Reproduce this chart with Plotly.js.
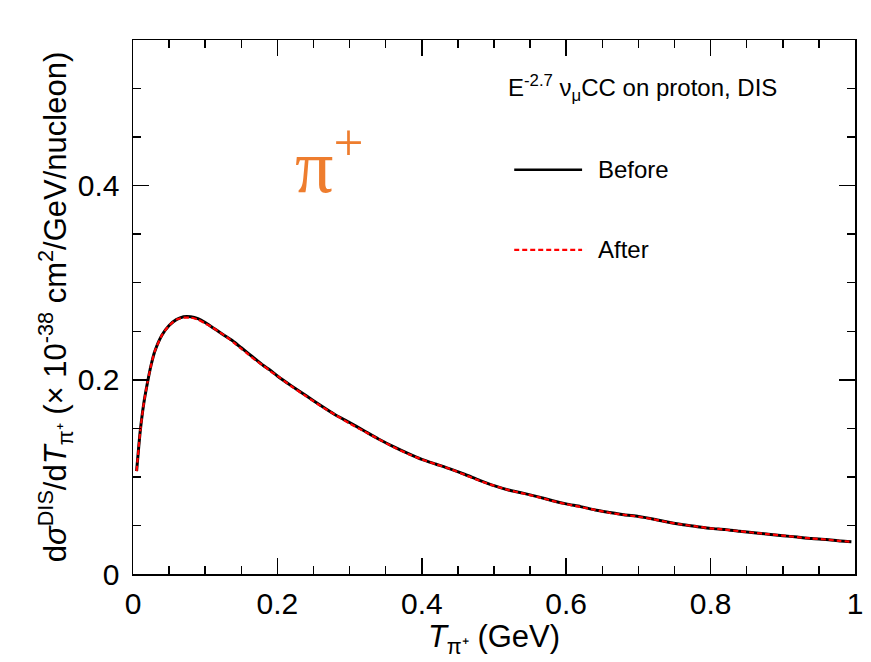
<!DOCTYPE html>
<html>
<head>
<meta charset="utf-8">
<script src="https://cdn.plot.ly/plotly-3.0.1.min.js"></script>
<style>html,body{margin:0;padding:0;background:#fff;}</style>
</head>
<body>
<div id="chart" style="width:871px;height:662px;"></div>
<script>
// T_pi+ (GeV)
const tPi = [0.005, 0.01, 0.015, 0.02, 0.025, 0.03, 0.04, 0.05, 0.06, 0.07, 0.08, 0.09, 0.1,
  0.11, 0.12, 0.13, 0.14, 0.15, 0.16, 0.17, 0.18, 0.19, 0.2, 0.22, 0.24, 0.26, 0.28, 0.3,
  0.32, 0.34, 0.36, 0.38, 0.4, 0.42, 0.44, 0.46, 0.48, 0.5, 0.52, 0.54, 0.56, 0.58, 0.6,
  0.62, 0.64, 0.66, 0.68, 0.7, 0.72, 0.74, 0.76, 0.78, 0.8, 0.82, 0.84, 0.86, 0.88, 0.9,
  0.92, 0.94, 0.96, 0.98, 0.995];
// dsigma/dT (x 1e-38 cm^2/GeV/nucleon), before
const before = [0.106, 0.147, 0.176, 0.197, 0.215, 0.229, 0.246, 0.256, 0.262, 0.265, 0.265, 0.263, 0.259,
  0.254, 0.249, 0.244, 0.239, 0.233, 0.227, 0.221, 0.215, 0.210, 0.204, 0.1935, 0.1835, 0.1735, 0.164, 0.156,
  0.1475, 0.139, 0.1315, 0.1245, 0.118, 0.113, 0.108, 0.1025, 0.0965, 0.091, 0.0865, 0.0833, 0.0797, 0.0757, 0.0722,
  0.0694, 0.066, 0.0634, 0.061, 0.0592, 0.0567, 0.0535, 0.051, 0.049, 0.047, 0.0458, 0.044, 0.0425, 0.041, 0.0395,
  0.038, 0.0365, 0.0355, 0.034, 0.0333];
// after
const after = [0.106, 0.147, 0.176, 0.197, 0.215, 0.229, 0.246, 0.256, 0.262, 0.264, 0.264, 0.262, 0.258,
  0.254, 0.249, 0.244, 0.238, 0.232, 0.226, 0.220, 0.215, 0.209, 0.204, 0.193, 0.183, 0.173, 0.164, 0.155,
  0.147, 0.139, 0.131, 0.124, 0.118, 0.113, 0.108, 0.102, 0.096, 0.091, 0.0865, 0.083, 0.0795, 0.0755, 0.072,
  0.069, 0.066, 0.063, 0.061, 0.059, 0.0565, 0.0535, 0.051, 0.049, 0.047, 0.0458, 0.044, 0.0425, 0.041, 0.0395,
  0.038, 0.0365, 0.0355, 0.034, 0.0333];
const seriesNames = ["Before", "After"];
const xTickVals = [0, 0.2, 0.4, 0.6, 0.8, 1];
const xTickText = ["0", "0.2", "0.4", "0.6", "0.8", "1"];
const yTickVals = [0, 0.2, 0.4];
const yTickText = ["0", "0.2", "0.4"];

const FONT = "Liberation Sans, Arial, Helvetica, sans-serif";

const traces = [
  {x: tPi, y: before, name: seriesNames[0], type: "scatter", mode: "lines",
   line: {color: "#000000", width: 3, shape: "spline", smoothing: 0.6}, showlegend: false},
  {x: tPi, y: after, name: seriesNames[1], type: "scatter", mode: "lines",
   line: {color: "#ff0000", width: 2.2, dash: "5px,3px", shape: "spline", smoothing: 0.6}, showlegend: false}
];

const axisCommon = {
  showline: true, linecolor: "#000", linewidth: 1.5, mirror: "allticks",
  ticks: "inside", ticklen: 16, tickwidth: 1.5, tickcolor: "#000",
  showgrid: false, zeroline: false,
  tickfont: {family: FONT, size: 30, color: "#000"},
  minor: {ticks: "inside", ticklen: 8, tickwidth: 1.5, tickcolor: "#000", dtick: 0.05, showgrid: false}
};

const layout = {
  width: 871, height: 662,
  margin: {l: 133, r: 16, t: 40, b: 88},
  paper_bgcolor: "#fff", plot_bgcolor: "#fff",
  font: {family: FONT, color: "#000"},
  xaxis: Object.assign({}, axisCommon, {
    range: [0, 1], tickmode: "array", tickvals: xTickVals, ticktext: xTickText,
    ticklabelstandoff: 2,
    title: {text: "<i>T</i><sub>π⁺</sub> (GeV)", font: {family: FONT, size: 31}, standoff: 2}
  }),
  yaxis: Object.assign({}, axisCommon, {
    range: [0, 0.55], tickmode: "array", tickvals: yTickVals, ticktext: yTickText,
    ticklabelstandoff: 6,
    title: {text: "d<i>σ</i><sup>DIS</sup>/d<i>T</i><sub>π⁺</sub> (× 10<sup>-38</sup> cm<sup>2</sup>/GeV/nucleon)",
            font: {family: FONT, size: 31}, standoff: 0}
  }),
  shapes: [
    {type: "line", xref: "paper", yref: "paper", x0: 0.528, x1: 0.622, y0: 0.757, y1: 0.757,
     line: {color: "#000", width: 2.5}},
    {type: "line", xref: "paper", yref: "paper", x0: 0.528, x1: 0.622, y0: 0.607, y1: 0.607,
     line: {color: "#ff0000", width: 2.2, dash: "5px,3px"}}
  ],
  annotations: [
    {xref: "paper", yref: "paper", x: 0.517, y: 0.91, xanchor: "left", yanchor: "middle", showarrow: false,
     text: "E<sup>-2.7</sup> ν<sub>μ</sub>CC on proton, DIS", font: {family: FONT, size: 24, color: "#000"}},
    {xref: "paper", yref: "paper", x: 0.641, y: 0.757, xanchor: "left", yanchor: "middle", showarrow: false,
     text: seriesNames[0], font: {family: FONT, size: 24, color: "#000"}},
    {xref: "paper", yref: "paper", x: 0.641, y: 0.607, xanchor: "left", yanchor: "middle", showarrow: false,
     text: seriesNames[1], font: {family: FONT, size: 24, color: "#000"}},
    {xref: "paper", yref: "paper", x: 0.222, y: 0.775, xanchor: "left", yanchor: "middle", showarrow: false,
     text: "π<sup>+</sup>", font: {family: "Liberation Serif, Times New Roman, serif", size: 76, color: "#ee7d2e"}}
  ]
};

Plotly.newPlot("chart", traces, layout, {staticPlot: true, displayModeBar: false});
</script>
</body>
</html>
